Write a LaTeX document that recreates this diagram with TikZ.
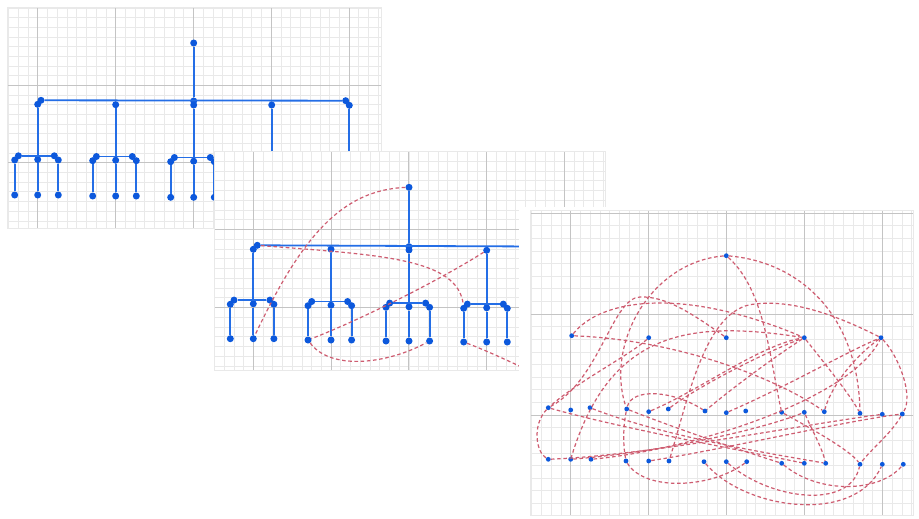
\documentclass[tikz,border=0pt]{standalone}
\definecolor{dotblue}{RGB}{12,88,220}
\definecolor{lineblue}{RGB}{36,110,230}
\definecolor{dashred}{RGB}{206,92,112}
\definecolor{gminor}{RGB}{233,233,233}
\definecolor{gmajor}{RGB}{196,196,196}
\tikzset{
  minorgrid/.style={draw=gminor,line width=0.6pt},
  majorgrid/.style={draw=gmajor,line width=0.8pt},
  bdot/.style={circle,fill=dotblue,inner sep=0pt,minimum size=7pt},
  sdot/.style={circle,fill=dotblue,inner sep=0pt,minimum size=4.8pt},
  tline/.style={draw=lineblue,line width=1.8pt},
  dline/.style={draw=dashred,line width=1.2pt,dash pattern=on 3.6pt off 2.6pt},
}
\newcommand\gridpanel[8]{%
  \fill[white] (#1,#2) rectangle (#3,#4);
  \begin{scope}
    \clip (#1,#2) rectangle (#3,#4);
    \foreach \k in {-50,...,50}{
      \draw[minorgrid] ({#5+(\k)*#7},#2) -- ({#5+(\k)*#7},#4);
      \draw[minorgrid] (#1,{#6+(\k)*#8}) -- (#3,{#6+(\k)*#8});
    }
    \foreach \k in {-7,...,7}{
      \draw[majorgrid] ({#5+(\k)*8*#7},#2) -- ({#5+(\k)*8*#7},#4);
      \draw[majorgrid] (#1,{#6+(\k)*8*#8}) -- (#3,{#6+(\k)*8*#8});
    }
  \end{scope}
  \draw[minorgrid] (#1,#2) rectangle (#3,#4);
}
\newcommand\tgroup[4]{%
  \node[bdot] (#1ll) at ({#2-23},{#3}) {};
  \node[bdot] (#1lu) at ({#2-19.3},{#3-4.2}) {};
  \node[bdot] (#1c) at ({#2},{#3-0.5}) {};
  \node[bdot] (#1ru) at ({#2+16.6},{#3-4.2}) {};
  \node[bdot] (#1rl) at ({#2+20.6},{#3}) {};
  \node[bdot] (#1fa) at ({#2-23},{#4}) {};
  \node[bdot] (#1fb) at ({#2},{#4}) {};
  \node[bdot] (#1fc) at ({#2+20.6},{#4}) {};
  \draw[tline] (#1lu) -- (#1ru);
  \draw[tline] (#1ll) -- (#1fa);
  \draw[tline] (#1c) -- (#1fb);
  \draw[tline] (#1rl) -- (#1fc);
}
\begin{document}
\begin{tikzpicture}[x=1pt,y=-1pt]
\useasboundingbox (0,0) rectangle (919,519);
\fill[white] (0,0) rectangle (919,519);

% ---------------- panel 1 ----------------
\gridpanel{7}{7}{381}{228}{37.7}{85.3}{9.73}{9.68}
\node[bdot] (p1R) at (193.7,43) {};
\node[bdot] (p1aL) at (37.7,104.3) {};
\node[bdot] (p1aU) at (41,100.3) {};
\node[bdot] (p1b) at (115.7,104.7) {};
\node[bdot] (p1cU) at (193.7,101) {};
\node[bdot] (p1cL) at (193.7,105) {};
\node[bdot] (p1d) at (271.7,105) {};
\node[bdot] (p1eU) at (345.7,100.7) {};
\node[bdot] (p1eL) at (349.3,105.3) {};
\draw[tline] (p1R) -- (p1cU);
\draw[tline] (p1aU) -- (p1eU);
\tgroup{p1ga}{37.7}{160}{195}
\tgroup{p1gb}{115.7}{160.7}{196}
\tgroup{p1gc}{193.7}{161.7}{197.3}
\tgroup{p1gd}{271.7}{162.5}{198}
\tgroup{p1ge}{349.3}{163}{199}
\draw[tline] (p1aL) -- (p1gac);
\draw[tline] (p1b) -- (p1gbc);
\draw[tline] (p1cL) -- (p1gcc);
\draw[tline] (p1d) -- (p1gdc);
\draw[tline] (p1eL) -- (p1gec);

% ---------------- panel 2 ----------------
\gridpanel{214}{151}{605}{370}{253.3}{229.3}{9.72}{9.75}
\node[bdot] (p2R) at (409,187.3) {};
\node[bdot] (p2aL) at (253.3,249.3) {};
\node[bdot] (p2aU) at (257.3,245.3) {};
\node[bdot] (p2b) at (331,249.3) {};
\node[bdot] (p2cU) at (409,246.7) {};
\node[bdot] (p2cL) at (409,250) {};
\node[bdot] (p2d) at (486.7,250.3) {};
\node[bdot] (p2eU) at (561,246.6) {};
\node[bdot] (p2eL) at (564.3,251) {};
\draw[tline] (p2R) -- (p2cU);
\draw[tline] (p2aU) -- (p2eU);
\tgroup{p2ga}{253.3}{304.3}{338.7}
\tgroup{p2gb}{331}{305.7}{340}
\tgroup{p2gc}{409}{307.3}{341}
\tgroup{p2gd}{486.7}{308.3}{342}
\tgroup{p2ge}{564.3}{309}{343}
\draw[tline] (p2aL) -- (p2gac);
\draw[tline] (p2b) -- (p2gbc);
\draw[tline] (p2cL) -- (p2gcc);
\draw[tline] (p2d) -- (p2gdc);
\draw[tline] (p2eL) -- (p2gec);
\coordinate (p2x) at (545,378);
\draw[dline] (p2R) .. controls (340,190) and (300,240) .. (p2gafb);
\draw[dline] (p2aU) .. controls (380,255) and (458,258) .. (p2gdll);
\draw[dline] (p2d) .. controls (440,280) and (360,320) .. (p2gbfa);
\draw[dline] (p2gbfa) .. controls (330,370) and (385,365) .. (p2gcfc);
\draw[dline] (p2gdfa) .. controls (490,352) and (515,364) .. (p2x);

% ---------------- panel 3 ----------------
\fill[white] (519,207) rectangle (919,519);
\gridpanel{530}{210}{913}{515}{570.7}{314}{9.74}{12.625}
\node[sdot] (qR) at (726.3,255.7) {};
\foreach \n/\x/\y in {1/571.7/335.7,2/648.7/337.7,3/726.3/337.7,4/804.3/337.7,5/881/337.7}
  \node[sdot] (qA\n) at (\x,\y) {};
\foreach \n/\x/\y in {1/548.3/407.7,2/570.7/410,3/590/407.7,4/626.7/409,5/648.7/411.7,
  6/668.3/409,7/705/411,8/726.3/412.7,9/745.7/411,10/781.7/412.3,11/804.3/412.3,
  12/824.3/411.7,13/860/413.3,14/882.3/414.3,15/902.3/414}
  \node[sdot] (qM\n) at (\x,\y) {};
\foreach \n/\x/\y in {1/548.3/459.3,2/570.7/459.3,3/591/459.3,4/626/461,5/648.7/461,
  6/669/461,7/704/461.7,8/726.3/461.7,9/746.7/461.7,10/781.7/463.3,11/804.3/463.3,
  12/825.7/463.3,13/860/464.3,14/882.3/464.3,15/903.3/464.3}
  \node[sdot] (qF\n) at (\x,\y) {};
\coordinate (qc4) at (640,297);
\coordinate (qc9) at (755,304);
\draw[dline] (qR) .. controls (800,262) and (858,315) .. (qM13);
\draw[dline] (qR) .. controls (765,290) and (770,360) .. (qM10);
\draw[dline] (qR) .. controls (650,262) and (605,345) .. (qM4);
\draw[dline] (qA3) .. controls (690,312) and (665,296) .. (qc4) .. controls (612,298) and (600,380) .. (qM1);
\draw[dline] (qA4) .. controls (690,320) and (610,330) .. (qF2);
\draw[dline] (qA2) .. controls (630,355) and (580,380) .. (qM1);
\draw[dline] (qA1) .. controls (680,340) and (780,380) .. (qM12);
\draw[dline] (qA5) .. controls (898,355) and (914,395) .. (qM15);
\draw[dline] (qA5) .. controls (830,312) and (790,300) .. (qc9) .. controls (705,308) and (688,400) .. (qF6);
\draw[dline] (qM4) .. controls (632,388) and (672,390) .. (qM7);
\draw[dline] (qM1) .. controls (532,425) and (536,452) .. (qF1);
\draw[dline] (qF1) .. controls (650,455) and (800,425) .. (qM14);
\draw[dline] (qF2) .. controls (660,452) and (760,430) .. (qM11);
\draw[dline] (qM1) .. controls (620,428) and (740,450) .. (qF11);
\draw[dline] (qM4) .. controls (623,428) and (623,445) .. (qF4);
\draw[dline] (qF4) .. controls (645,492) and (712,488) .. (qF9);
\draw[dline] (qF7) .. controls (745,510) and (855,525) .. (qF14);
\draw[dline] (qF8) .. controls (770,500) and (850,510) .. (qF13);
\draw[dline] (qF10) .. controls (820,495) and (880,492) .. (qF15);
\draw[dline] (qM15) .. controls (890,435) and (870,450) .. (qF13);
\draw[dline] (qF3) .. controls (690,450) and (850,400) .. (qA5);
\draw[dline] (qM6) .. controls (700,385) and (770,350) .. (qA4);
\draw[dline] (qA4) .. controls (830,370) and (850,395) .. (qM13);
\draw[dline] (qA4) .. controls (770,360) and (730,390) .. (qM7);
\draw[dline] (qA5) .. controls (850,360) and (830,390) .. (qM12);
\draw[dline] (qM3) .. controls (660,435) and (760,452) .. (qF12);
\draw[dline] (qM10) .. controls (810,428) and (850,450) .. (qF13);
\draw[dline] (qM11) .. controls (812,430) and (822,448) .. (qF12);
\draw[dline] (qF5) .. controls (720,450) and (850,420) .. (qM15);
\draw[dline] (qM5) .. controls (700,390) and (760,345) .. (qA4);
\draw[dline] (qM4) .. controls (680,430) and (740,450) .. (qF10);
\draw[dline] (qM8) .. controls (790,385) and (850,350) .. (qA5);
\draw[dline] (qA1) .. controls (600,300) and (680,285) .. (qA4);
\end{tikzpicture}
\end{document}
